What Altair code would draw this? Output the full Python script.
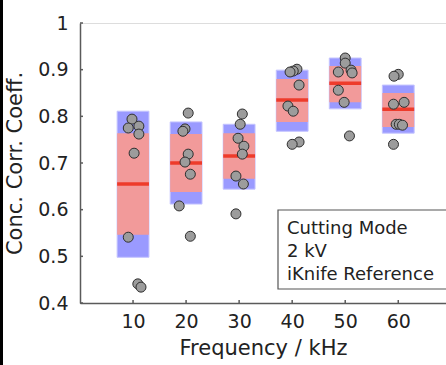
import altair as alt
import pandas as pd

# ---- data ----
freqs = [10, 20, 30, 40, 50, 60]
blue_lo = [0.498, 0.612, 0.644, 0.768, 0.816, 0.764]
blue_hi = [0.811, 0.788, 0.783, 0.899, 0.925, 0.867]
red_lo = [0.546, 0.638, 0.666, 0.788, 0.830, 0.777]
red_hi = [0.764, 0.762, 0.764, 0.880, 0.908, 0.850]
medians = [0.655, 0.700, 0.715, 0.835, 0.871, 0.815]

vals_10 = [0.794, 0.779, 0.775, 0.762, 0.721, 0.541, 0.441, 0.434]
dx_10 = [-0.2, 1.1, -0.9, 1.1, 0.2, -0.9, 0.9, 1.5]
vals_20 = [0.807, 0.773, 0.768, 0.719, 0.702, 0.676, 0.608, 0.543]
dx_20 = [0.4, -0.2, -0.6, 0.4, -0.2, 0.8, -1.3, 0.8]
vals_30 = [0.805, 0.783, 0.753, 0.736, 0.719, 0.672, 0.655, 0.591]
dx_30 = [0.6, 0.2, -0.2, 0.9, 0.6, -0.6, 0.8, -0.6]
vals_40 = [0.901, 0.897, 0.895, 0.867, 0.822, 0.811, 0.745, 0.740]
dx_40 = [0.9, 0.2, -0.4, 1.3, -0.8, 0.2, 1.3, 0.0]
vals_50 = [0.925, 0.914, 0.899, 0.895, 0.893, 0.856, 0.830, 0.758]
dx_50 = [0.0, 0.0, 1.1, -1.3, 1.3, -1.3, -0.2, 0.8]
vals_60 = [0.890, 0.886, 0.830, 0.826, 0.783, 0.783, 0.781, 0.740]
dx_60 = [0.0, -0.8, 1.1, -0.9, -0.4, 0.2, 0.8, -0.9]

y_ticks = [0.4, 0.5, 0.6, 0.7, 0.8, 0.9, 1.0]
x_ticks = [10, 20, 30, 40, 50, 60]
legend_lines = ["Cutting Mode", "2 kV", "iKnife Reference"]
x_title = "Frequency / kHz"
y_title = "Conc. Corr. Coeff."

# ---- tables ----
HALF = 3.0
box_df = pd.DataFrame({
    "f": freqs, "blo": blue_lo, "bhi": blue_hi,
    "rlo": red_lo, "rhi": red_hi, "med": medians,
})
box_df["x0"] = box_df["f"] - HALF
box_df["x1"] = box_df["f"] + HALF

groups = [(10, vals_10, dx_10), (20, vals_20, dx_20), (30, vals_30, dx_30),
          (40, vals_40, dx_40), (50, vals_50, dx_50), (60, vals_60, dx_60)]
rows = []
for f, vs, ds in groups:
    for v, d in zip(vs, ds):
        rows.append({"f": f, "val": v, "xp": f + d})
pts_df = pd.DataFrame(rows)

W, H = 366, 280
FONT = "DejaVu Sans"
AX = "#5a5a5a"

xscale = alt.Scale(domain=[0, 69], nice=False, zero=False)
yscale = alt.Scale(domain=[0.4, 1.0], nice=False, zero=False)
xaxis = alt.Axis(values=x_ticks, ticks=False, grid=False, labelFontSize=19,
                 labelPadding=9, titleFontSize=21, titlePadding=6,
                 titleFontWeight="normal", domainColor=AX, domainWidth=1.5,
                 labelColor="#222", titleColor="#222", labelFont=FONT, titleFont=FONT)
yaxis = alt.Axis(values=y_ticks, format=".1~f", ticks=False, grid=False,
                 labelFontSize=19, labelPadding=12, titleFontSize=21, titlePadding=12,
                 titleFontWeight="normal", domainColor=AX, domainWidth=1.5,
                 labelColor="#222", titleColor="#222", labelFont=FONT, titleFont=FONT)

X = lambda fld: alt.X(fld, scale=xscale, axis=xaxis, title=x_title)
Y = lambda fld: alt.Y(fld, scale=yscale, axis=yaxis, title=y_title)

base = alt.Chart(box_df)
blue = base.mark_rect(color="#9a9aff", stroke="#c4c4ff", strokeWidth=1).encode(
    x=X("x0:Q"), x2="x1:Q", y=Y("blo:Q"), y2="bhi:Q")
red = base.mark_rect(color="#f29a9a").encode(
    x=X("x0:Q"), x2="x1:Q", y=Y("rlo:Q"), y2="rhi:Q")
med = base.mark_rule(color="#ee3b2b", strokeWidth=3.5).encode(
    x=X("x0:Q"), x2="x1:Q", y=Y("med:Q"))
pts = alt.Chart(pts_df).mark_point(filled=True, fill="#9c9c9c", stroke="#2e2e2e",
                                    strokeWidth=1, size=100, opacity=1).encode(
    x=X("xp:Q"), y=Y("val:Q"))

# inward axis ticks
ytk = alt.Chart(pd.DataFrame({"v": y_ticks})).mark_rule(color=AX, strokeWidth=1.5).encode(
    y=Y("v:Q"), x=alt.value(0), x2=alt.value(3))
xtk = alt.Chart(pd.DataFrame({"v": x_ticks})).mark_rule(color=AX, strokeWidth=1.5).encode(
    x=X("v:Q"), y=alt.value(H - 3), y2=alt.value(H))

# annotation box
one = pd.DataFrame({"a": [0]})
box = alt.Chart(one).mark_rect(fill="white", stroke="#555", strokeWidth=1.2).encode(
    x=alt.value(198), x2=alt.value(367), y=alt.value(187), y2=alt.value(266))
texts = [alt.Chart(one).mark_text(text=t, align="left", baseline="alphabetic",
                                  font=FONT, fontSize=18, color="#222").encode(
    x=alt.value(207), y=alt.value(211 + 23 * i)) for i, t in enumerate(legend_lines)]

# figure border at left
border = alt.Chart(one).mark_rule(color="black", strokeWidth=3).encode(
    x=alt.value(-78.5), y=alt.value(-23), y2=alt.value(342))

chart = alt.layer(blue, red, med, pts, ytk, xtk, box, *texts, border).properties(
    width=W, height=H, autosize="none",
    padding={"left": 80, "top": 23, "right": 0, "bottom": 62},
).configure_view(stroke=None).configure(background="white")

chart.save("out.html", embed_options={"renderer": "svg", "actions": False})
